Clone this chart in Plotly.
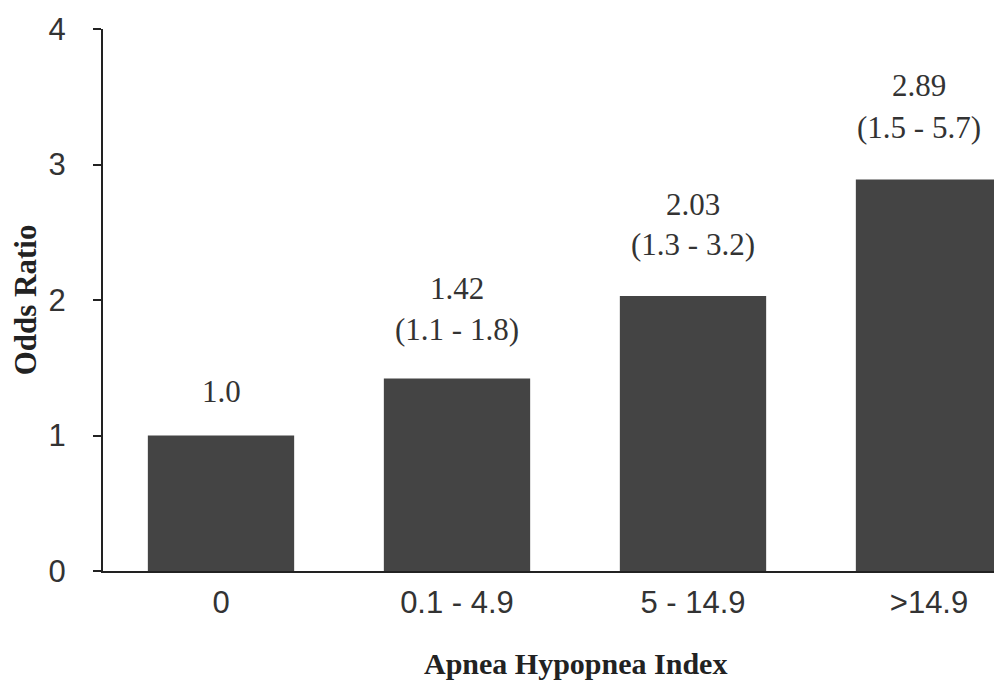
import plotly.graph_objects as go

categories = ["0", "0.1 - 4.9", "5 - 14.9", ">14.9"]
odds_ratio = [1.0, 1.42, 2.03, 2.89]
ci_labels = ["", "(1.1 - 1.8)", "(1.3 - 3.2)", "(1.5 - 5.7)"]
value_labels = ["1.0", "1.42", "2.03", "2.89"]
y_ticks = [0, 1, 2, 3, 4]
x_title = "Apnea Hypopnea Index"
y_title = "Odds Ratio"

# style: pixel shift (label centre above bar top)
value_yshift = [44, 90, 91, 94]
ci_yshift = [0, 49, 51, 52]
label_xshift = [0, 0, 0, -10]

fig = go.Figure()
fig.add_trace(go.Bar(
    x=list(range(len(categories))), y=odds_ratio,
    width=0.62, marker=dict(color="#444444", line=dict(width=0)),
    hoverinfo="skip",
))

lab_font = dict(family="Liberation Serif", size=31, color="#333333")
for i, (v, vl, ci) in enumerate(zip(odds_ratio, value_labels, ci_labels)):
    fig.add_annotation(
        x=i, y=v, text=vl, showarrow=False, xanchor="center", yanchor="middle",
        yshift=value_yshift[i], xshift=label_xshift[i], font=lab_font,
    )
    if ci:
        fig.add_annotation(
            x=i, y=v, text=ci, showarrow=False, xanchor="center", yanchor="middle",
            yshift=ci_yshift[i], xshift=label_xshift[i], font=lab_font,
        )

# x-axis title placed as annotation (centered slightly right of plot centre)
fig.add_annotation(
    xref="paper", yref="paper", x=0.526, y=0, yshift=-92,
    xanchor="center", yanchor="middle", showarrow=False,
    text="<b>" + x_title + "</b>",
    font=dict(family="Liberation Serif", size=30, color="#222222"),
)

plot_w = 899
step = 236
fig.update_layout(
    width=1002, height=683,
    margin=dict(l=95, r=8, t=21, b=120, autoexpand=False),
    paper_bgcolor="white", plot_bgcolor="white",
    showlegend=False,
    xaxis=dict(
        range=[-0.5, -0.5 + plot_w / step],
        tickmode="array", tickvals=list(range(len(categories))), ticktext=categories,
        showgrid=False, zeroline=False,
        showline=True, linecolor="#222222", linewidth=2,
        ticks="", ticklabelstandoff=3,
        tickfont=dict(family="Liberation Sans", size=31, color="#333333"),
    ),
    yaxis=dict(
        range=[0, 4], tickvals=y_ticks,
        showgrid=False, zeroline=False,
        showline=True, linecolor="#222222", linewidth=2,
        ticks="outside", ticklen=8, tickwidth=2, tickcolor="#222222",
        ticklabelstandoff=21,
        tickfont=dict(family="Liberation Sans", size=31, color="#333333"),
        title=dict(text="<b>" + y_title + "</b>", standoff=12,
                   font=dict(family="Liberation Serif", size=31, color="#222222")),
    ),
)

fig.write_html("out.html")
